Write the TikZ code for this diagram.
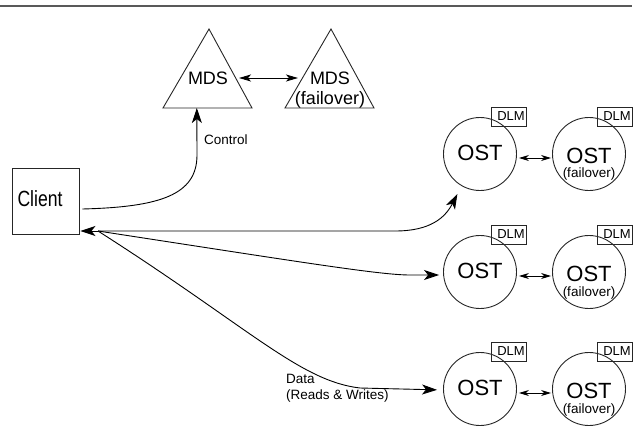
\documentclass[tikz,border=0pt]{standalone}
\usepackage{fontspec}
\setmainfont{Liberation Sans}
\newfontfamily\narrowfont[FakeStretch=0.8]{Liberation Sans}
\usetikzlibrary{arrows.meta,calc}
\begin{document}
\begin{tikzpicture}[x=1pt,y=-1pt,
  shp/.style={line width=0.9pt, draw=black!85},
  conn/.style={line width=0.9pt},
  bigtip/.style={-{Stealth[length=15pt,width=10pt,inset=4pt]}},
  midtip/.style={{Stealth[length=12pt,width=7pt,inset=3pt]}-{Stealth[length=12pt,width=7pt,inset=3pt]}},
  smalltip/.style={{Stealth[length=10pt,width=6pt,inset=3pt]}-{Stealth[length=10pt,width=6pt,inset=3pt]}},
  ost/.style={shp, circle, minimum size=73pt, inner sep=0pt},
  dlmbox/.style={shp, minimum width=35pt, minimum height=19pt, inner sep=0pt, font=\fontsize{13}{14}\selectfont},
  osttxt/.style={font=\fontsize{22}{24}\selectfont, inner sep=0pt},
  fotxt/.style={font=\fontsize{13.5}{15}\selectfont, inner sep=0pt},
  mdstxt/.style={font=\fontsize{18}{20}\selectfont, inner sep=0pt},
  lbl/.style={font=\fontsize{13.5}{16}\selectfont, inner sep=0pt}
]
\useasboundingbox (0,0) rectangle (634,426);
% top rule
\draw[line width=2pt, black!65] (0,6) -- (632,6);

% MDS triangles
\coordinate (m1a) at (209,29); \coordinate (m1l) at (163,108); \coordinate (m1r) at (252,108);
\coordinate (m2a) at (331,29); \coordinate (m2l) at (285,108); \coordinate (m2r) at (374,108);
\draw[shp] (m1a) -- (m1r) -- (m1l) -- cycle;
\draw[shp] (m2a) -- (m2r) -- (m2l) -- cycle;
\node[mdstxt] (mds) at (208,78) {MDS};
\node[mdstxt] (mdsf) at (330,78) {MDS};
\node[mdstxt] (mdsff) at (330,100) {(failover)};
\coordinate (mdsR) at (239,78);
\coordinate (mdsL) at (298,78);
\draw[conn, midtip] (mdsR) -- (mdsL);

% Client
\node[shp, minimum width=67pt, minimum height=66pt, inner sep=0pt] (client) at (45.5,201) {};
\node[font=\narrowfont\fontsize{22}{24}\selectfont, inner sep=0pt] (clienttxt) at (40,199) {Client};

% OSTs
\foreach \i/\y in {1/154, 2/272, 3/389}{
  \node[ost] (ost\i) at (480,\y) {};
  \node[osttxt] (ost\i t) at (480,\y-1) {OST};
  \node[dlmbox] (dlm\i) at ($(ost\i)+(29,-37.5)$) {\hspace*{4pt}DLM};
  \node[ost] (fo\i) at (589,\y) {};
  \node[osttxt] (fo\i t) at (589,\y+1.5) {OST};
  \node[fotxt] (fo\i s) at (589,\y+20.5) {(failover)};
  \node[dlmbox] (fdlm\i) at ($(fo\i)+(26,-37.5)$) {\hspace*{4pt}DLM};
  \draw[conn, smalltip, shorten <=2pt, shorten >=1pt] ([yshift=-4pt]ost\i.east) -- ([yshift=-4pt]fo\i.west);
}

% Control
\coordinate (mdsin) at ($(m1l)!0.38!(m1r)$);
\draw[conn, bigtip] ($(client.east)+(3,8)$) .. controls (160,207) and (197,195) .. (197,155) -- (mdsin);
\node[lbl, anchor=west] (ctl) at (204,140) {Control};

% Data
\coordinate (hub) at (98,231);
\draw[conn, bigtip, shorten >=1pt] (hub) -- (client.east |- hub);
\draw[conn, bigtip, shorten >=9pt] (hub) -- (395,231) .. controls (430,231) and (445,218) .. (ost1.240);
\draw[conn, bigtip, shorten >=4pt] (hub) .. controls (300,262) and (380,275) .. (410,275) -- ([yshift=-3pt]ost2.west);
\draw[conn, bigtip, shorten >=6pt] (hub) .. controls (250,328) and (300,381) .. (360,388) -- ([yshift=-1pt]ost3.west);
\node[lbl, anchor=west, align=left] (data) at (286,388) {Data\\(Reads \& Writes)};
\end{tikzpicture}
\end{document}
